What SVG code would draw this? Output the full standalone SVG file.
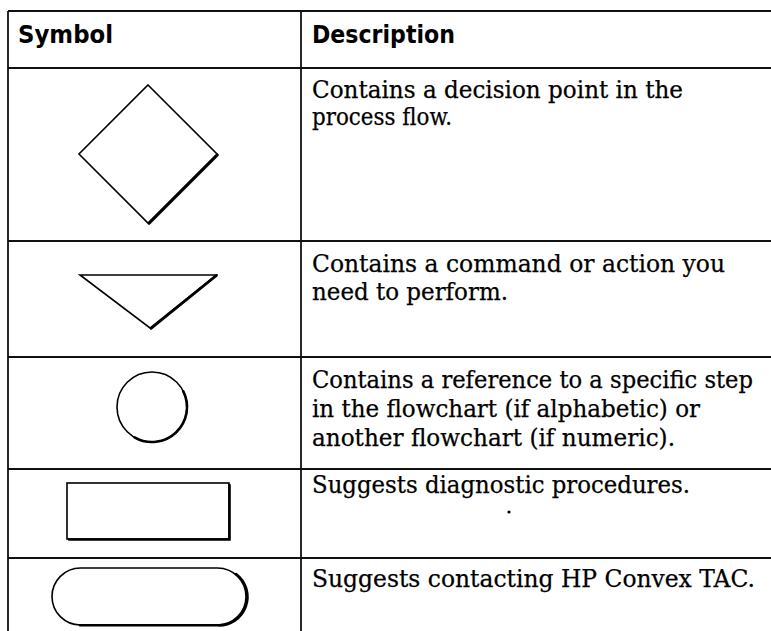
<svg xmlns="http://www.w3.org/2000/svg" width="771" height="631" viewBox="0 0 771 631">
  <style>
    .grid { stroke: #111; stroke-width: 1.8; fill: none; }
    .shape { stroke: #000; stroke-width: 1.6; fill: #fff; stroke-linejoin: miter; }
    .shadow { stroke: #000; stroke-width: 2.6; fill: none; stroke-linecap: round; }
    .head { font-family: "DejaVu Sans", "Liberation Sans", sans-serif; font-weight: bold; font-size: 24px; fill: #000; }
    .desc { font-family: "DejaVu Serif", "Liberation Serif", serif; font-size: 23.5px; fill: #000; stroke: #000; stroke-width: 0.25; }
  </style>
  <rect width="771" height="631" fill="#fff"/>

  <!-- table rules -->
  <g id="table-grid" class="grid">
    <line x1="8" y1="11" x2="771" y2="11"/>
    <line x1="8" y1="11" x2="8" y2="631"/>
    <line x1="301" y1="11" x2="301" y2="631"/>
    <line x1="8" y1="68" x2="771" y2="68"/>
    <line x1="8" y1="241" x2="771" y2="241"/>
    <line x1="8" y1="357" x2="771" y2="357"/>
    <line x1="8" y1="469" x2="771" y2="469"/>
    <line x1="8" y1="558" x2="771" y2="558"/>
  </g>

  <!-- header row -->
  <g id="header">
    <text class="head" x="18" y="43" textLength="95" lengthAdjust="spacingAndGlyphs">Symbol</text>
    <text class="head" x="312" y="43" textLength="143" lengthAdjust="spacingAndGlyphs">Description</text>
  </g>

  <!-- decision symbol -->
  <g id="decision">
    <polygon class="shape" points="148,85 217,154 148,223 79,154"/>
    <path class="shadow" d="M217.5,155 L149,223.5"/>
    <text class="desc" x="312" y="98" textLength="371" lengthAdjust="spacingAndGlyphs">Contains a decision point in the</text>
    <text class="desc" x="312" y="125" textLength="140" lengthAdjust="spacingAndGlyphs">process flow.</text>
  </g>

  <!-- action symbol -->
  <g id="action">
    <polygon class="shape" points="80,275 216,275 150,328"/>
    <path class="shadow" d="M216.5,275.5 L151,328.5"/>
    <text class="desc" x="312" y="272" textLength="413" lengthAdjust="spacingAndGlyphs">Contains a command or action you</text>
    <text class="desc" x="312" y="300" textLength="196" lengthAdjust="spacingAndGlyphs">need to perform.</text>
  </g>

  <!-- reference symbol -->
  <g id="reference">
    <circle class="shape" cx="152" cy="407" r="35"/>
    <path class="shadow" d="M183.3,391.3 A35,35 0 0 1 134.5,437.3"/>
    <text class="desc" x="312" y="388" textLength="441" lengthAdjust="spacingAndGlyphs">Contains a reference to a specific step</text>
    <text class="desc" x="312" y="417" textLength="388" lengthAdjust="spacingAndGlyphs">in the flowchart (if alphabetic) or</text>
    <text class="desc" x="312" y="446" textLength="363" lengthAdjust="spacingAndGlyphs">another flowchart (if numeric).</text>
  </g>

  <!-- diagnostic symbol -->
  <g id="diagnostic">
    <rect class="shape" x="67" y="483" width="162" height="56"/>
    <path class="shadow" d="M229.5,485 L229.5,539.5 L69,539.5"/>
    <text class="desc" x="312" y="493" textLength="378" lengthAdjust="spacingAndGlyphs">Suggests diagnostic procedures.</text>
    <circle cx="509" cy="512" r="1.6" fill="#000"/>
  </g>

  <!-- contact symbol -->
  <g id="contact">
    <rect class="shape" x="52" y="568" width="194" height="57" rx="28.5" ry="28.5"/>
    <path class="shadow" d="M236,574 A28.5,28.5 0 0 1 217.5,625.3 L80,625.3"/>
    <text class="desc" x="312" y="587" textLength="443" lengthAdjust="spacingAndGlyphs">Suggests contacting HP Convex TAC.</text>
  </g>
</svg>
